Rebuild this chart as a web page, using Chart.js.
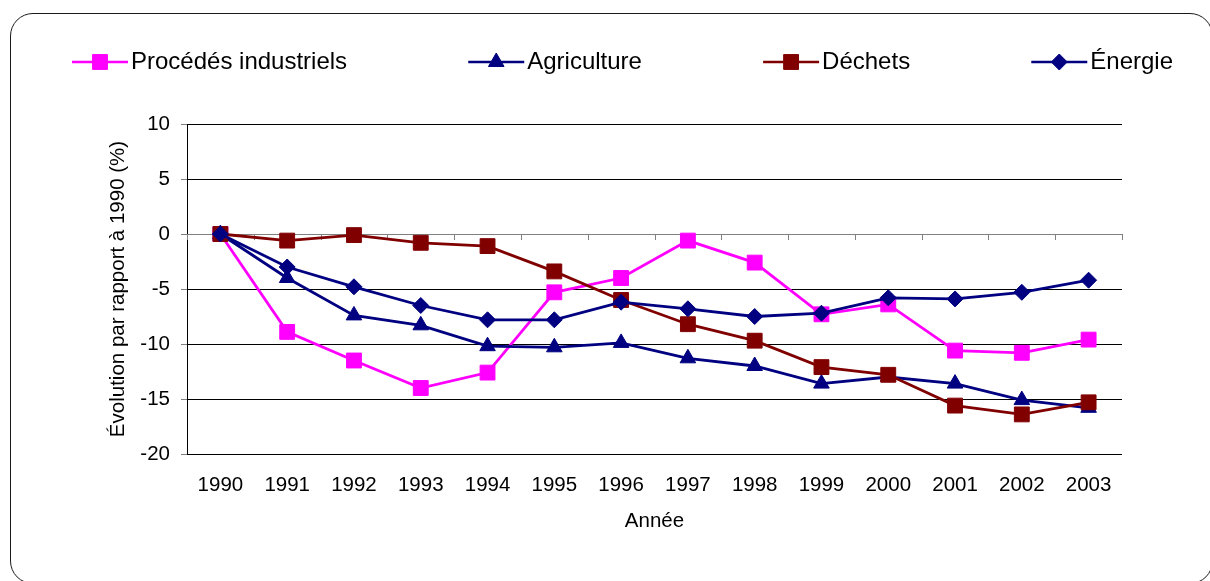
<!DOCTYPE html>
<html>
<head>
<meta charset="utf-8">
<script src="https://cdn.jsdelivr.net/npm/chart.js@4/dist/chart.umd.min.js"></script>
<style>
  html, body { margin: 0; padding: 0; background: #fff; overflow: hidden; }
  #wrap { position: relative; width: 1210px; height: 581px; }
  #c { position: absolute; left: 0; top: 0; }
  #frame { position: absolute; left: 10px; top: 13px; width: 1203px; height: 571px;
           border: 1.5px solid #1a1a1a; border-radius: 23px; pointer-events: none; box-sizing: border-box; }
</style>
</head>
<body>
<div id="wrap">
  <canvas id="c" width="1210" height="581"></canvas>
  <div id="frame"></div>
</div>
<script>
const years = ['1990','1991','1992','1993','1994','1995','1996','1997','1998','1999','2000','2001','2002','2003'];
const procedes    = [0, -8.9, -11.5, -14.0, -12.6, -5.3, -4.0, -0.6, -2.6, -7.3, -6.4, -10.6, -10.8, -9.6];
const agriculture = [0, -4.0, -7.4, -8.3, -10.2, -10.3, -9.9, -11.3, -12.0, -13.6, -13.0, -13.6, -15.1, -15.8];
const dechets     = [0, -0.6, -0.1, -0.8, -1.1, -3.4, -6.0, -8.2, -9.7, -12.1, -12.8, -15.6, -16.4, -15.3];
const energie     = [0, -3.0, -4.8, -6.5, -7.8, -7.8, -6.2, -6.8, -7.5, -7.2, -5.8, -5.9, -5.3, -4.2];
const seriesNames = ['Procédés industriels', 'Agriculture', 'Déchets', 'Énergie'];
const yTitle = 'Évolution par rapport à 1990 (%)';
const xTitle = 'Année';

const FONT = '"Liberation Sans", Arial, sans-serif';

function ds(label, data, color, style, radius, order) {
  return {
    label, data, order,
    borderColor: color, backgroundColor: color,
    borderWidth: 2.8, tension: 0,
    pointStyle: style, pointRadius: radius, pointHoverRadius: radius,
    pointBackgroundColor: color, pointBorderColor: color, pointBorderWidth: 1
  };
}

const datasets = [
  ds(seriesNames[0], procedes, '#FF00FF', 'rect', 10.5, 4),
  ds(seriesNames[1], agriculture, '#000080', 'triangle', 9, 3),
  ds(seriesNames[2], dechets, '#800000', 'rect', 10.5, 2),
  ds(seriesNames[3], energie, '#000080', 'rectRot', 8, 1)
];

// category tick marks hanging from the zero line
const zeroAxisPlugin = {
  id: 'zeroAxis',
  beforeDatasetsDraw(chart) {
    const {ctx, scales: {x, y}} = chart;
    const y0 = y.getPixelForValue(0);
    ctx.save();
    ctx.strokeStyle = '#808080';
    ctx.lineWidth = 1;
    const n = years.length;
    const step = x.getPixelForValue(1) - x.getPixelForValue(0);
    for (let i = 0; i <= n; i++) {
      const px = Math.round(x.getPixelForValue(i) - step / 2) + 0.5;
      ctx.beginPath();
      ctx.moveTo(px, y0);
      ctx.lineTo(px, y0 + 6);
      ctx.stroke();
    }
    ctx.restore();
  }
};

// legend: line + marker + text, spread across the top
const legendPlugin = {
  id: 'lineLegend',
  afterDraw(chart) {
    const ctx = chart.ctx;
    ctx.save();
    ctx.font = '24px ' + FONT;
    const lineLen = 56, gapText = 3;
    const left = 72, right = 1173, yMid = 62;
    const widths = datasets.map(d => lineLen + gapText + ctx.measureText(d.label).width);
    const total = widths.reduce((a, b) => a + b, 0);
    const gap = (right - left - total) / (datasets.length - 1);
    let x = left;
    datasets.forEach((d, i) => {
      ctx.strokeStyle = d.borderColor;
      ctx.lineWidth = 2.5;
      ctx.beginPath();
      ctx.moveTo(x, yMid);
      ctx.lineTo(x + lineLen, yMid);
      ctx.stroke();
      const opts = { pointStyle: d.pointStyle, radius: d.pointRadius, rotation: 0, borderWidth: 1 };
      ctx.fillStyle = d.backgroundColor;
      ctx.strokeStyle = d.borderColor;
      ctx.lineWidth = 1;
      Chart.helpers.drawPoint(ctx, opts, x + lineLen / 2, yMid);
      ctx.fillStyle = '#000';
      ctx.textBaseline = 'middle';
      ctx.textAlign = 'left';
      ctx.fillText(d.label, x + lineLen + gapText, yMid);
      x += widths[i] + gap;
    });
    ctx.restore();
  }
};

new Chart(document.getElementById('c'), {
  type: 'line',
  data: { labels: years, datasets },
  plugins: [zeroAxisPlugin, legendPlugin],
  options: {
    responsive: false,
    animation: false,
    events: [],
    layout: { padding: { left: 0, right: 88, top: 124, bottom: 0 } },
    plugins: { legend: { display: false }, tooltip: { enabled: false } },
    scales: {
      x: {
        offset: true,
        grid: { display: true, color: 'rgba(0,0,0,0)', drawTicks: false, offset: true },
        border: { display: false },
        ticks: { color: '#000', padding: 19, font: { family: FONT, size: 20.5 }, maxRotation: 0, autoSkip: false },
        title: { display: true, text: xTitle, color: '#000', font: { family: FONT, size: 20.5 }, padding: { top: 0, bottom: 47 } },
        afterFit(scale) { scale.height = 127; }
      },
      y: {
        min: -20, max: 10,
        ticks: { stepSize: 5, color: '#000', padding: 11, font: { family: FONT, size: 20.5 } },
        grid: {
          color: c => (c.tick && c.tick.value === 0) ? '#808080' : '#000',
          lineWidth: 1, tickLength: 6, tickColor: '#808080'
        },
        border: { display: true, color: '#000', width: 1 },
        title: { display: true, text: yTitle, color: '#000', font: { family: FONT, size: 20.5 }, padding: { top: 106, bottom: 0 } },
        afterFit(scale) { scale.width = 187; }
      }
    }
  }
});
</script>
</body>
</html>
